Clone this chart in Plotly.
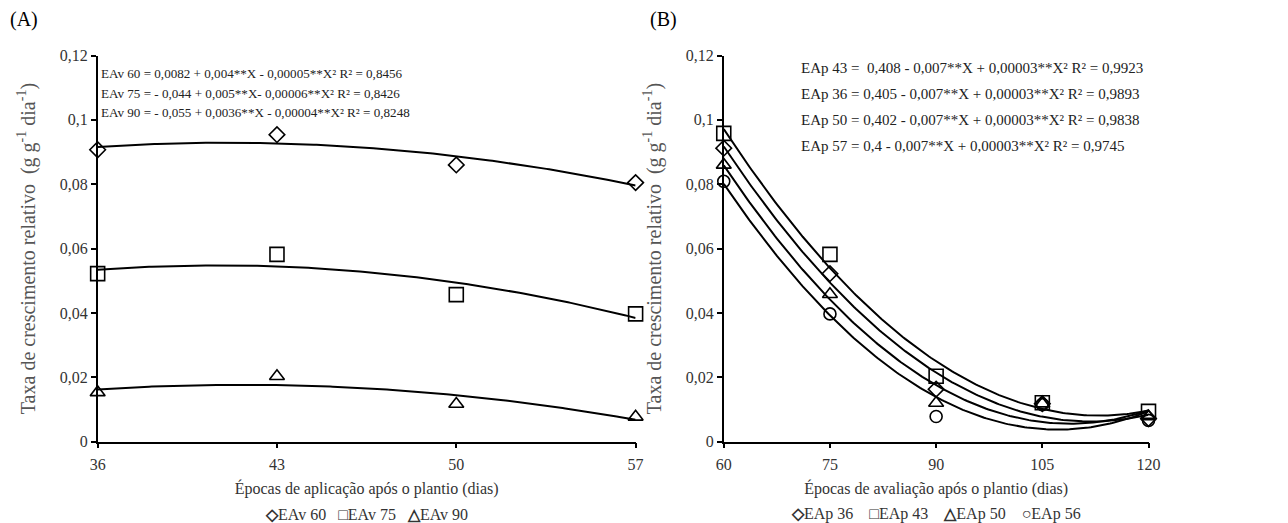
import numpy as np
import plotly.graph_objects as go

# ---------------- data ----------------
# Panel A: application epochs (days after planting)
xa = [36, 43, 50, 57]
eav60 = [0.0907, 0.0954, 0.0860, 0.0805]
eav75 = [0.0522, 0.0582, 0.0457, 0.0397]
eav90 = [0.0153, 0.0203, 0.0117, 0.0077]
names_a = ["EAv 60", "EAv 75", "EAv 90"]

# Panel B: evaluation epochs (days after planting)
xb = [60, 75, 90, 105, 120]
eap36 = [0.0912, 0.0522, 0.0163, 0.0118, 0.0072]
eap43 = [0.0958, 0.0582, 0.0203, 0.0121, 0.0094]
eap50 = [0.0860, 0.0458, 0.0120, 0.0118, 0.0078]
eap56 = [0.0809, 0.0397, 0.0078, 0.0115, 0.0066]
names_b = ["EAp 36", "EAp 43", "EAp 50", "EAp 56"]

ytickvals = [0, 0.02, 0.04, 0.06, 0.08, 0.1, 0.12]
yticktext = ["0", "0,02", "0,04", "0,06", "0,08", "0,1", "0,12"]

eq_a = [
    "EAv 60 = 0,0082 + 0,004**X - 0,00005**X² R² = 0,8456",
    "EAv 75 = - 0,044 + 0,005**X- 0,00006**X² R² = 0,8426",
    "EAv 90 = - 0,055 + 0,0036**X - 0,00004**X² R² = 0,8248",
]
eq_b = [
    "EAp 43 =  0,408 - 0,007**X + 0,00003**X² R² = 0,9923",
    "EAp 36 = 0,405 - 0,007**X + 0,00003**X² R² = 0,9893",
    "EAp 50 = 0,402 - 0,007**X + 0,00003**X² R² = 0,9838",
    "EAp 57 = 0,4 - 0,007**X + 0,00003**X² R² = 0,9745",
]

# ---------------- figure ----------------
W, H = 1310, 545
FONT = "Liberation Serif"
TXT = "#333333"

# measured page placement: screen = offset + scale * figure pixel
OX, SX = 7.5, 0.983
OY, SY = 8.75, 0.9635


def px(d):
    return ((d - OX) / SX) / W


def py(d):
    return 1 - ((d - OY) / SY) / H


fig = go.Figure()

symbols = {"d": "diamond-open", "s": "square-open", "t": "triangle-up-open", "c": "circle-open"}
glyphs = {"d": "◇", "s": "□", "t": "△", "c": "○"}
sizes = {"d": 12, "s": 14, "t": 13, "c": 12}


def add_series(x, y, name, sym, xaxis, yaxis):
    x = np.array(x, dtype=float)
    y = np.array(y, dtype=float)
    coef = np.polyfit(x, y, 2)
    xs = np.linspace(x.min(), x.max(), 200)
    fig.add_trace(go.Scatter(x=xs, y=np.polyval(coef, xs), mode="lines",
                             line=dict(color="black", width=2),
                             showlegend=False, hoverinfo="skip", cliponaxis=False,
                             xaxis=xaxis, yaxis=yaxis))
    fig.add_trace(go.Scatter(x=x, y=y, mode="markers", name=name, showlegend=False,
                             cliponaxis=False,
                             marker=dict(symbol=symbols[sym], size=sizes[sym],
                                         color="black", line=dict(width=1.6, color="black")),
                             xaxis=xaxis, yaxis=yaxis))


series_a = [(eav60, "d"), (eav75, "s"), (eav90, "t")]
series_b = [(eap36, "d"), (eap43, "s"), (eap50, "t"), (eap56, "c")]
for (vals, sym), nm in zip(series_a, names_a):
    add_series(xa, vals, nm, sym, "x", "y")
for (vals, sym), nm in zip(series_b, names_b):
    add_series(xb, vals, nm, sym, "x2", "y2")

axA = [px(97), px(634)]
axB = [px(722), px(1146)]
ydom = [py(440), py(56)]

common_x = dict(showgrid=False, zeroline=False, showline=True, linecolor="black", linewidth=1.5,
                ticks="outside", ticklen=5, tickcolor="black", tickwidth=1.5,
                ticklabelstandoff=2,
                tickfont=dict(family=FONT, size=16, color=TXT),
                title_font=dict(family=FONT, size=16, color=TXT), title_standoff=11)
common_y = dict(showgrid=False, zeroline=False, showline=True, linecolor="black", linewidth=1.5,
                ticks="outside", ticklen=5, tickcolor="black", tickwidth=1.5,
                range=[0, 0.12], tickvals=ytickvals, ticktext=yticktext,
                tickfont=dict(family=FONT, size=16, color=TXT),
                title_font=dict(family=FONT, size=20, color="#555555"), title_standoff=19)

ytitle = "Taxa de crescimento relativo  (g g<sup>-1</sup> dia<sup>-1</sup>)"

fig.update_layout(
    width=W, height=H, margin=dict(l=0, r=0, t=0, b=0), autosize=False,
    paper_bgcolor="white", plot_bgcolor="white", showlegend=False,
    font=dict(family=FONT, color=TXT),
    xaxis=dict(domain=axA, range=[36, 57], tickvals=xa, anchor="y",
               title_text="Épocas de aplicação após o plantio (dias)", **common_x),
    yaxis=dict(domain=ydom, anchor="x", title_text=ytitle, **common_y),
    xaxis2=dict(domain=axB, range=[60, 120], tickvals=xb, anchor="y2",
                title_text="Épocas de avaliação após o plantio (dias)", **common_x),
    yaxis2=dict(domain=ydom, anchor="x2", title_text=ytitle, **common_y),
)

annotations = []
for i, t in enumerate(eq_a):
    annotations.append(dict(text=t, xref="paper", yref="paper", x=px(98), y=py(74 + i * 19.5),
                            xanchor="left", yanchor="middle", showarrow=False,
                            font=dict(family=FONT, size=13.1, color="#222222")))
for i, t in enumerate(eq_b):
    annotations.append(dict(text=t, xref="paper", yref="paper", x=px(797), y=py(68 + i * 26),
                            xanchor="left", yanchor="middle", showarrow=False,
                            font=dict(family=FONT, size=15, color="#222222")))


def legend_text(series, names, gap):
    return gap.join(f"<b>{glyphs[sym]}</b>{nm}" for (_, sym), nm in zip(series, names))


annotations.append(dict(text=legend_text(series_a, names_a, "   "), xref="paper", yref="paper",
                        x=(axA[0] + axA[1]) / 2, y=py(512), xanchor="center", yanchor="middle",
                        showarrow=False, font=dict(family=FONT, size=16, color=TXT)))
annotations.append(dict(text=legend_text(series_b, names_b, "    "), xref="paper", yref="paper",
                        x=(axB[0] + axB[1]) / 2, y=py(512), xanchor="center", yanchor="middle",
                        showarrow=False, font=dict(family=FONT, size=16, color=TXT)))
annotations.append(dict(text="(A)", xref="paper", yref="paper", x=0, y=py(20),
                        xanchor="left", yanchor="middle", showarrow=False,
                        font=dict(family=FONT, size=20, color="black")))
annotations.append(dict(text="(B)", xref="paper", yref="paper", x=px(646), y=py(20),
                        xanchor="left", yanchor="middle", showarrow=False,
                        font=dict(family=FONT, size=20, color="black")))
fig.update_layout(annotations=annotations)

fig.write_html("out.html")
